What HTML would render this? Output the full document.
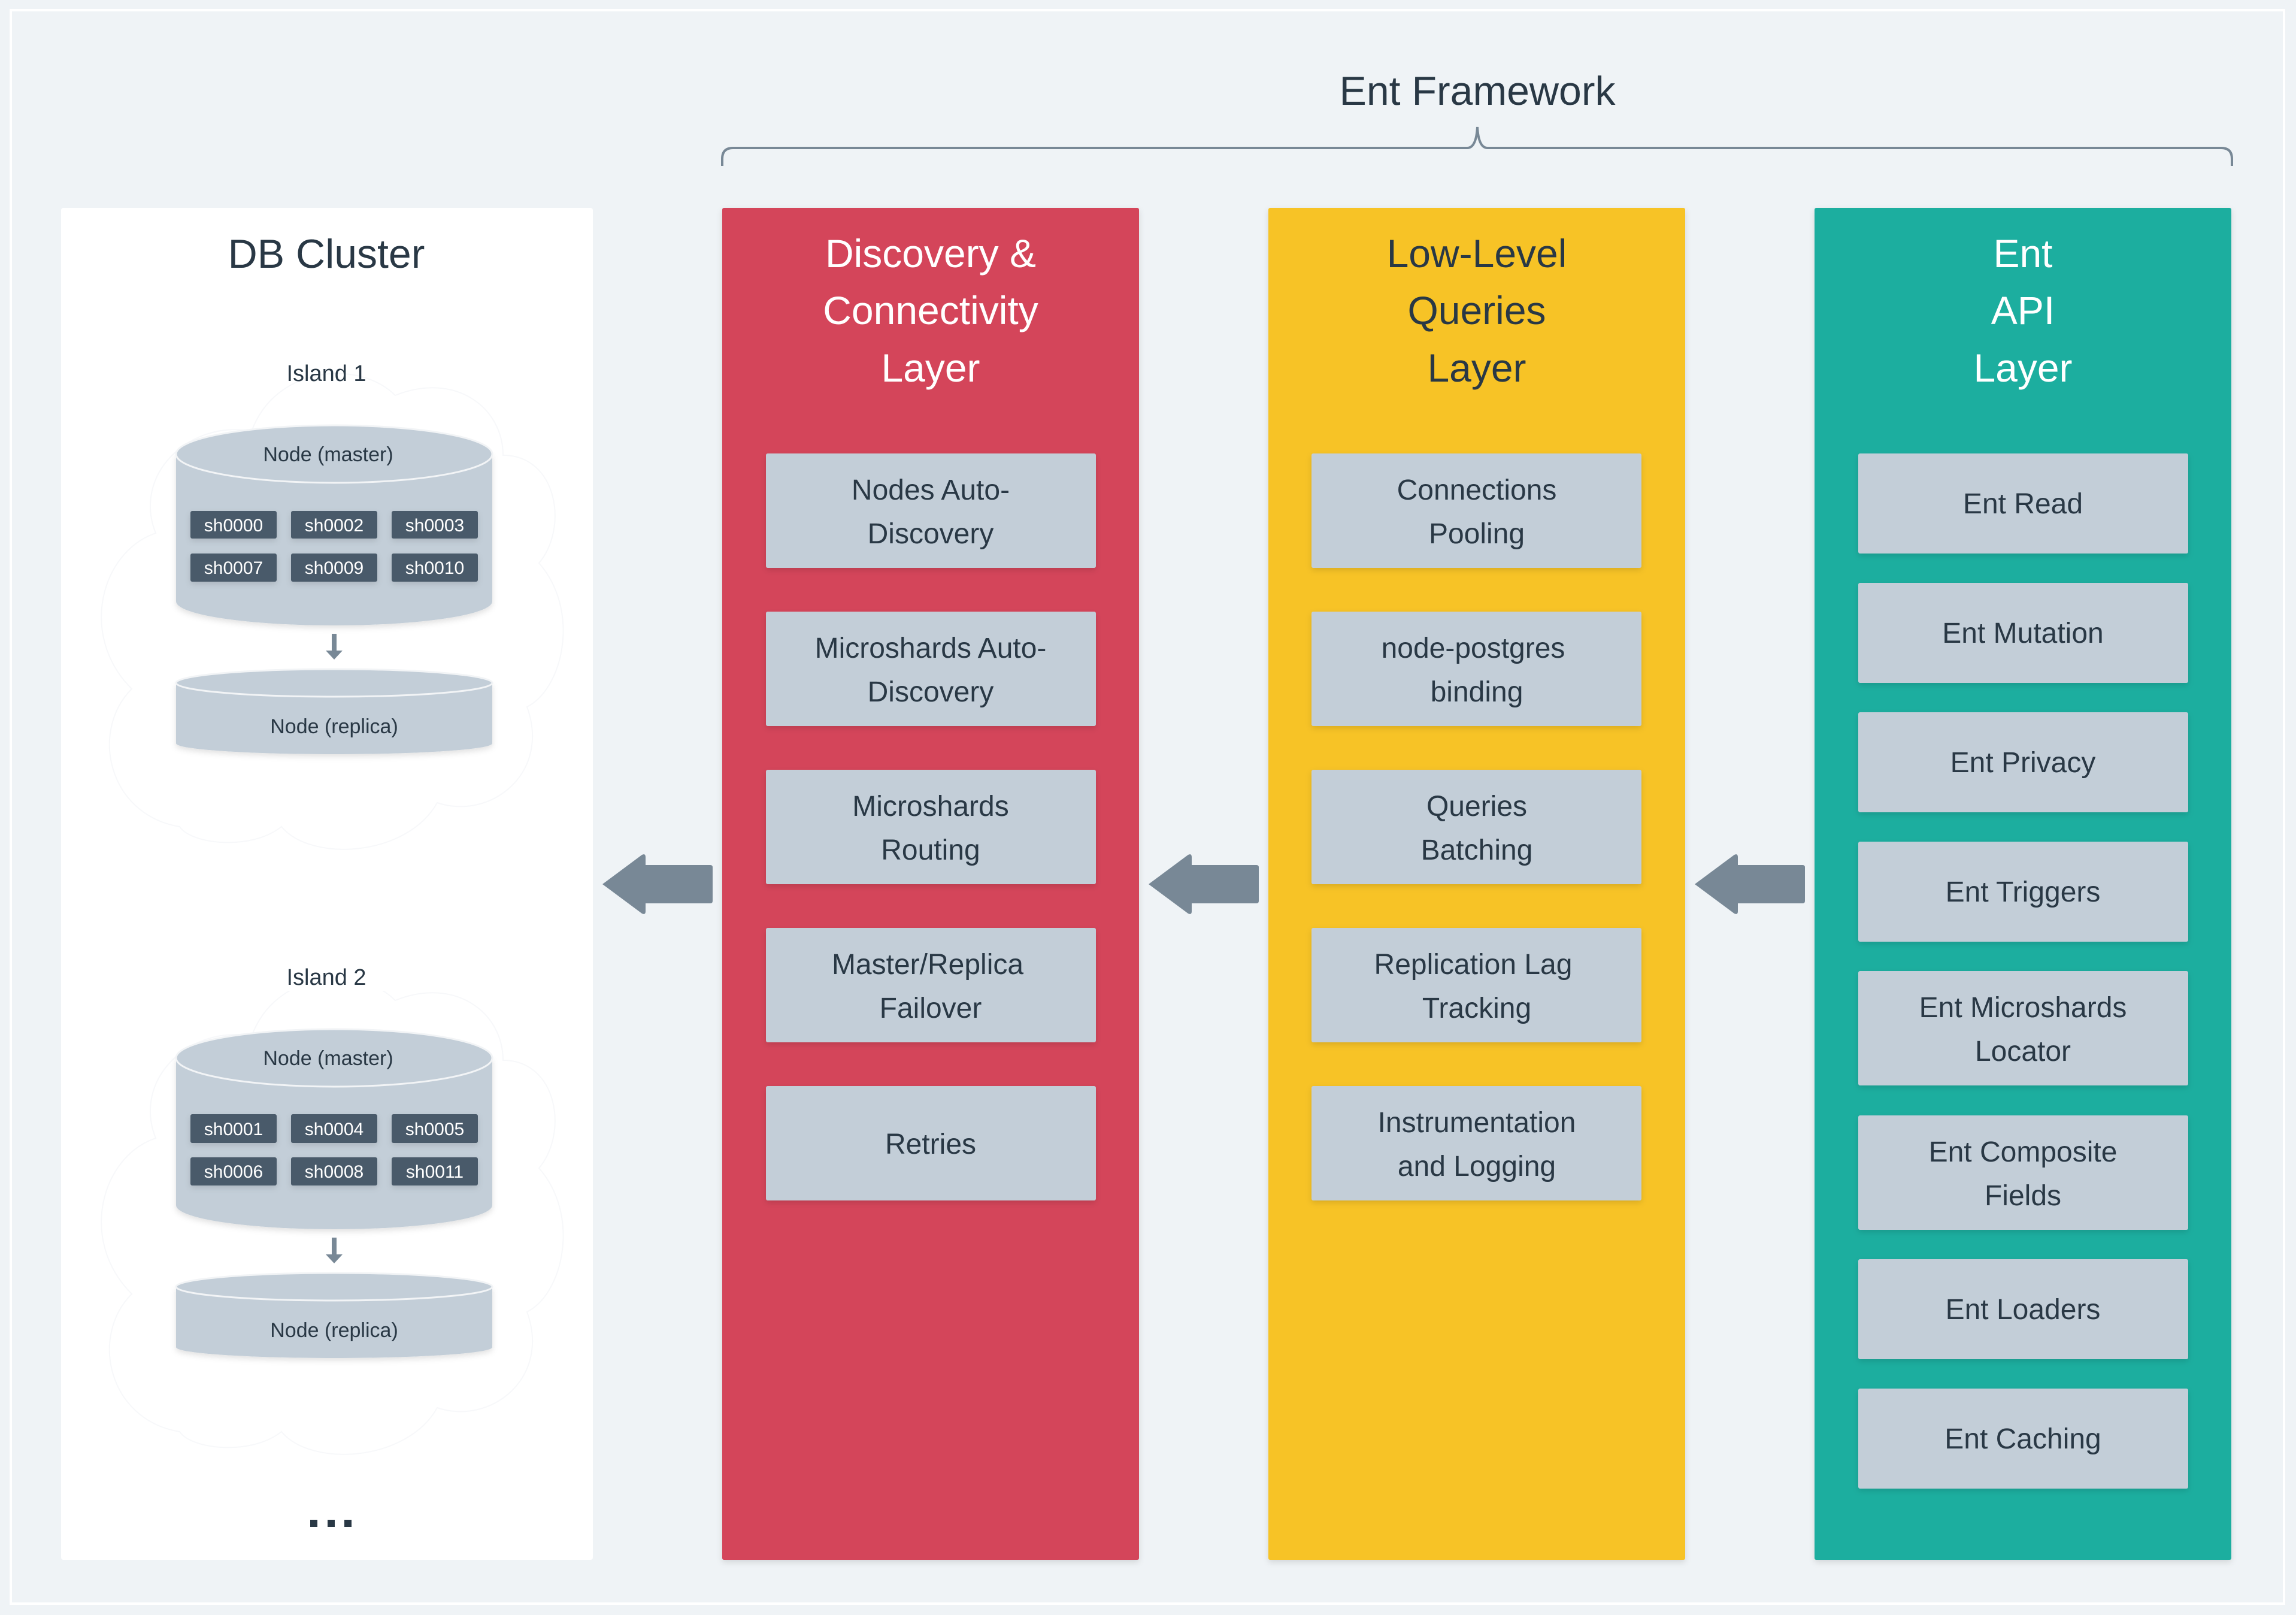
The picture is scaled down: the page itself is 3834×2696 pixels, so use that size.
<!DOCTYPE html>
<html><head><meta charset="utf-8"><style>
html,body{margin:0;padding:0;background:#eff3f6;}
svg{display:block;font-family:"Liberation Sans",sans-serif;}
</style></head><body>
<svg width="3834" height="2696" viewBox="0 0 3834 2696" xmlns="http://www.w3.org/2000/svg">
<defs>
<filter id="sh" x="-10%" y="-10%" width="120%" height="130%"><feDropShadow dx="0" dy="4" stdDeviation="5" flood-color="#000" flood-opacity="0.12"/></filter>
<g id="arrow"><path d="M1006,1476 L1072,1427 Q1078,1424 1078,1431 L1078,1444 L1186,1444 Q1190,1444 1190,1448 L1190,1504 Q1190,1508 1186,1508 L1078,1508 L1078,1521 Q1078,1528 1072,1525 Z" fill="#788896"/></g>
<g id="island">
 <text x="545" y="636" font-size="38" fill="#293845" text-anchor="middle">Island 1</text>
 <path d="M294,758 L294,1004 A264,40 0 0 0 822,1004 L822,758 Z" fill="#c3ced8" filter="url(#sh)"/>
 <ellipse cx="558" cy="758" rx="264" ry="48" fill="#c3ced8" stroke="#f2f4f6" stroke-width="3"/>
 <text x="548" y="770" font-size="34" fill="#293845" text-anchor="middle">Node (master)</text>
 <path d="M558,1058 L558,1090" stroke="#788896" stroke-width="8"/>
 <path d="M544,1086 L558,1101 L572,1086 Z" fill="#788896"/>
 <path d="M294,1140 L294,1241 A264,18 0 0 0 822,1241 L822,1140 Z" fill="#c3ced8" filter="url(#sh)"/>
 <ellipse cx="558" cy="1140" rx="264" ry="23" fill="#c3ced8" stroke="#f2f4f6" stroke-width="3"/>
 <text x="558" y="1224" font-size="34" fill="#293845" text-anchor="middle">Node (replica)</text>
</g>
</defs>
<rect x="18" y="17" width="3796" height="2660" fill="none" stroke="#ffffff" stroke-width="4"/>
<text x="2467" y="175" font-size="68" fill="#293845" text-anchor="middle">Ent Framework</text>
<path d="M1206,277 L1206,265 Q1206,247 1224,247 L2450,247 Q2465,247 2467,212 Q2469,247 2484,247 L3709,247 Q3727,247 3727,265 L3727,277" fill="none" stroke="#788896" stroke-width="4"/>
<rect x="102" y="347" width="888" height="2257" rx="4" fill="#ffffff"/>
<g fill="none" stroke="#f7f8fa" stroke-width="2">
<path d="M300,1380 C180,1360 150,1220 220,1150 C130,1060 170,920 260,890 C220,790 320,700 420,720 C460,610 600,600 660,660 C760,620 840,680 840,760 C930,760 950,880 900,940 C970,1020 940,1150 880,1180 C920,1290 820,1370 730,1340 C680,1430 520,1440 470,1380 C420,1420 320,1410 300,1380 Z"/>
<path d="M300,2390 C180,2370 150,2230 220,2160 C130,2070 170,1930 260,1900 C220,1800 320,1710 420,1730 C460,1620 600,1610 660,1670 C760,1630 840,1690 840,1770 C930,1770 950,1890 900,1950 C970,2030 940,2160 880,2190 C920,2300 820,2380 730,2350 C680,2440 520,2450 470,2390 C420,2430 320,2420 300,2390 Z"/>
</g>
<text x="545" y="447" font-size="68" fill="#293845" text-anchor="middle">DB Cluster</text>
<use href="#island"/>
<g fill="#4a5a6a" filter="url(#sh)">
<rect x="318" y="853" width="144" height="46" rx="3"/><rect x="486" y="853" width="144" height="46" rx="3"/><rect x="654" y="853" width="144" height="46" rx="3"/>
<rect x="318" y="924" width="144" height="47" rx="3"/><rect x="486" y="924" width="144" height="47" rx="3"/><rect x="654" y="924" width="144" height="47" rx="3"/>
</g>
<g font-size="30" fill="#ffffff" text-anchor="middle">
<text x="390" y="887">sh0000</text><text x="558" y="887">sh0002</text><text x="726" y="887">sh0003</text>
<text x="390" y="958">sh0007</text><text x="558" y="958">sh0009</text><text x="726" y="958">sh0010</text>
</g>
<g transform="translate(0,1008)">
<use href="#island"/>
<rect x="450" y="596" width="200" height="50" fill="#ffffff"/>
<text x="545" y="636" font-size="38" fill="#293845" text-anchor="middle">Island 2</text>
<g fill="#4a5a6a" filter="url(#sh)">
<rect x="318" y="852" width="144" height="48" rx="3"/><rect x="486" y="852" width="144" height="48" rx="3"/><rect x="654" y="852" width="144" height="48" rx="3"/>
<rect x="318" y="924" width="144" height="47" rx="3"/><rect x="486" y="924" width="144" height="47" rx="3"/><rect x="654" y="924" width="144" height="47" rx="3"/>
</g>
<g font-size="30" fill="#ffffff" text-anchor="middle">
<text x="390" y="887">sh0001</text><text x="558" y="887">sh0004</text><text x="726" y="887">sh0005</text>
<text x="390" y="958">sh0006</text><text x="558" y="958">sh0008</text><text x="726" y="958">sh0011</text>
</g>
</g>
<g fill="#293845"><rect x="518" y="2537" width="12" height="12"/><rect x="547" y="2537" width="12" height="12"/><rect x="575" y="2537" width="12" height="12"/></g>
<use href="#arrow"/>
<use href="#arrow" transform="translate(912,0)"/>
<use href="#arrow" transform="translate(1824,0)"/>
<rect x="1206" y="347" width="696" height="2257" rx="3" fill="#d4455a" filter="url(#sh)"/>
<rect x="2118" y="347" width="696" height="2257" rx="3" fill="#f7c325" filter="url(#sh)"/>
<rect x="3030" y="347" width="696" height="2257" rx="3" fill="#1aae9f" filter="url(#sh)"/>
<g font-size="66" text-anchor="middle">
<g fill="#ffffff"><text x="1554" y="446">Discovery &amp;</text><text x="1554" y="541">Connectivity</text><text x="1554" y="637">Layer</text></g>
<g fill="#293845"><text x="2466" y="446">Low-Level</text><text x="2466" y="541">Queries</text><text x="2466" y="637">Layer</text></g>
<g fill="#ffffff"><text x="3378" y="446">Ent</text><text x="3378" y="541">API</text><text x="3378" y="637">Layer</text></g>
</g>
<g fill="#c3ced8" filter="url(#sh)">
<rect x="1279" y="757" width="551" height="191" rx="3"/><rect x="1279" y="1021" width="551" height="191" rx="3"/><rect x="1279" y="1285" width="551" height="191" rx="3"/><rect x="1279" y="1549" width="551" height="191" rx="3"/><rect x="1279" y="1813" width="551" height="191" rx="3"/>
<rect x="2190" y="757" width="551" height="191" rx="3"/><rect x="2190" y="1021" width="551" height="191" rx="3"/><rect x="2190" y="1285" width="551" height="191" rx="3"/><rect x="2190" y="1549" width="551" height="191" rx="3"/><rect x="2190" y="1813" width="551" height="191" rx="3"/>
<rect x="3103" y="757" width="551" height="167" rx="3"/><rect x="3103" y="973" width="551" height="167" rx="3"/><rect x="3103" y="1189" width="551" height="167" rx="3"/><rect x="3103" y="1405" width="551" height="167" rx="3"/><rect x="3103" y="1621" width="551" height="191" rx="3"/><rect x="3103" y="1862" width="551" height="191" rx="3"/><rect x="3103" y="2102" width="551" height="167" rx="3"/><rect x="3103" y="2318" width="551" height="167" rx="3"/>
</g>
<g font-size="48" fill="#293845" text-anchor="middle">
<text x="1554" y="834">Nodes Auto-</text><text x="1554" y="907">Discovery</text>
<text x="1554" y="1098">Microshards Auto-</text><text x="1554" y="1171">Discovery</text>
<text x="1554" y="1362">Microshards</text><text x="1554" y="1435">Routing</text>
<text x="1549" y="1626">Master/Replica</text><text x="1554" y="1699">Failover</text>
<text x="1554" y="1926">Retries</text>
<text x="2466" y="834">Connections</text><text x="2466" y="907">Pooling</text>
<text x="2460" y="1098">node-postgres</text><text x="2466" y="1171">binding</text>
<text x="2466" y="1362">Queries</text><text x="2466" y="1435">Batching</text>
<text x="2460" y="1626">Replication Lag</text><text x="2466" y="1699">Tracking</text>
<text x="2466" y="1890">Instrumentation</text><text x="2466" y="1963">and Logging</text>
<text x="3378" y="857">Ent Read</text>
<text x="3378" y="1073">Ent Mutation</text>
<text x="3378" y="1289">Ent Privacy</text>
<text x="3378" y="1505">Ent Triggers</text>
<text x="3378" y="1698">Ent Microshards</text><text x="3378" y="1771">Locator</text>
<text x="3378" y="1939">Ent Composite</text><text x="3378" y="2012">Fields</text>
<text x="3378" y="2202">Ent Loaders</text>
<text x="3378" y="2418">Ent Caching</text>
</g>
</svg>
</body></html>
